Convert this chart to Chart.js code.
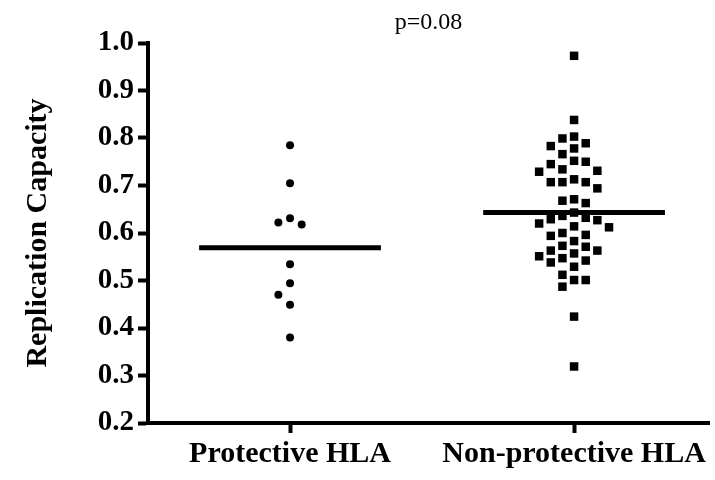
<!DOCTYPE html>
<html>
<head>
<meta charset="utf-8">
<script src="https://cdn.jsdelivr.net/npm/chart.js@4/dist/chart.umd.min.js"></script>
<style>
  html, body { margin: 0; padding: 0; background: #fff; }
  #wrap { width: 715px; height: 480px; }
</style>
</head>
<body>
<div id="wrap"><canvas id="c" width="715" height="480"></canvas></div>
<script>
// Group labels and replication capacity values per group
const categories = ['Protective HLA', 'Non-protective HLA'];
const protective = [0.785, 0.705, 0.631, 0.618, 0.622, 0.534, 0.494, 0.470, 0.449, 0.380];
const nonProtective = [
  0.973, 0.838, 0.799, 0.803, 0.789, 0.778, 0.783, 0.766, 0.750, 0.745,
  0.752, 0.734, 0.729, 0.731, 0.713, 0.707, 0.707, 0.707, 0.694, 0.671,
  0.663, 0.668, 0.643, 0.632, 0.614, 0.627, 0.620, 0.629, 0.636, 0.612,
  0.600, 0.594, 0.596, 0.583, 0.573, 0.557, 0.563, 0.547, 0.563, 0.571,
  0.551, 0.542, 0.538, 0.529, 0.512, 0.501, 0.501, 0.487, 0.424, 0.319
];
const yTicks = [0.2, 0.3, 0.4, 0.5, 0.6, 0.7, 0.8, 0.9, 1.0];
const pValueText = 'p=0.08';

const SERIF = "'Liberation Serif', 'Times New Roman', Times, serif";

const mean = arr => arr.reduce((s, v) => s + v, 0) / arr.length;

// Simple column scatter: sorted values are placed in the nearest free column
// (0, -1, +1, -2, +2, ...) so that points in one column never overlap.
function columnScatter(values, center, step, gap) {
  const order = values.map((v, i) => i).sort((a, b) => values[b] - values[a]);
  const cols = {};
  const pts = [];
  for (const i of order) {
    const v = values[i];
    for (let k = 0; ; k++) {
      const c = k === 0 ? 0 : (k % 2 ? -(k + 1) / 2 : k / 2);
      const list = cols[c] || (cols[c] = []);
      if (list.every(u => Math.abs(u - v) >= gap)) {
        list.push(v);
        pts.push({ x: center + c * step, y: v });
        break;
      }
    }
  }
  return pts;
}

const COL_STEP = 0.041;
const GAP = 0.0245;
const HALF_LINE = 0.32;

const meanLine = (center, arr) => [
  { x: center - HALF_LINE, y: mean(arr) },
  { x: center + HALF_LINE, y: mean(arr) }
];

new Chart(document.getElementById('c'), {
  type: 'scatter',
  data: {
    datasets: [
      {
        label: categories[0],
        data: columnScatter(protective, 1, COL_STEP, GAP),
        pointStyle: 'circle',
        pointRadius: 4,
        pointBackgroundColor: '#000',
        pointBorderWidth: 0
      },
      {
        label: categories[1],
        data: columnScatter(nonProtective, 2, COL_STEP, GAP),
        pointStyle: 'rect',
        pointRadius: 6,
        pointBackgroundColor: '#000',
        pointBorderWidth: 0
      },
      {
        label: categories[0] + ' mean',
        data: meanLine(1, protective),
        showLine: true,
        borderColor: '#000',
        borderWidth: 5,
        pointRadius: 0
      },
      {
        label: categories[1] + ' mean',
        data: meanLine(2, nonProtective),
        showLine: true,
        borderColor: '#000',
        borderWidth: 5,
        pointRadius: 0
      }
    ]
  },
  options: {
    responsive: false,
    animation: false,
    layout: { padding: 0 },
    plugins: {
      legend: { display: false },
      tooltip: { enabled: false },
      title: {
        display: true,
        text: pValueText,
        fullSize: false,
        color: '#000',
        font: { family: SERIF, size: 24, weight: 'normal' },
        padding: { top: 8, bottom: 6.2 }
      }
    },
    scales: {
      x: {
        type: 'linear',
        min: 0.5,
        max: 2.475,
        afterBuildTicks: s => { s.ticks = categories.map((c, i) => ({ value: i + 1 })); },
        afterFit: s => { s.height = 57; },
        ticks: {
          color: '#000',
          padding: 3,
          maxRotation: 0,
          font: { family: SERIF, size: 30, weight: 'bold' },
          callback: v => categories[Math.round(v) - 1]
        },
        grid: {
          display: true,
          drawOnChartArea: false,
          drawTicks: true,
          tickLength: 10,
          tickWidth: 4,
          tickColor: '#000'
        },
        border: { display: true, color: '#000', width: 4 }
      },
      y: {
        type: 'linear',
        min: 0.2,
        max: 1.0,
        afterBuildTicks: s => { s.ticks = yTicks.map(v => ({ value: v })); },
        afterFit: s => { s.width = 148; },
        ticks: {
          color: '#000',
          padding: 4,
          font: { family: SERIF, size: 29, weight: 'bold' },
          callback: v => Number(v).toFixed(1)
        },
        grid: {
          display: true,
          drawOnChartArea: false,
          drawTicks: true,
          tickLength: 10,
          tickWidth: 4,
          tickColor: '#000'
        },
        border: { display: true, color: '#000', width: 4 },
        title: {
          display: true,
          text: 'Replication Capacity',
          color: '#000',
          font: { family: SERIF, size: 30, weight: 'bold' },
          padding: { top: 20, bottom: 0 }
        }
      }
    }
  }
});
</script>
</body>
</html>
